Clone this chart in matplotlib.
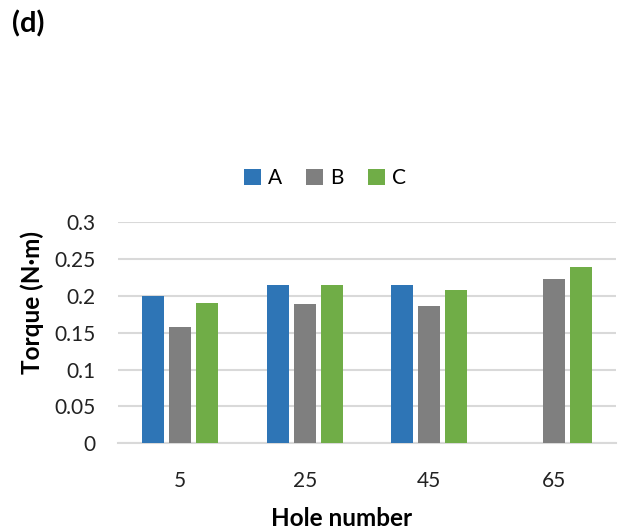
import matplotlib.pyplot as plt
import numpy as np

plt.rcParams["font.family"] = ["Lato", "DejaVu Sans"]

holes = ["5", "25", "45", "65"]
torque_a = [0.200, 0.215, 0.215, np.nan]
torque_b = [0.158, 0.189, 0.186, 0.223]
torque_c = [0.190, 0.215, 0.208, 0.239]

series = [("A", torque_a, "#2E75B6"), ("B", torque_b, "#7F7F7F"), ("C", torque_c, "#70AD47")]

fig = plt.figure(figsize=(6.19, 5.32), dpi=100)
ax = fig.add_axes([0.1906, 0.1667, 0.8044, 0.4160])

x = np.arange(len(holes))
width = 0.177
step = 0.218
for i, (name, vals, color) in enumerate(series):
    ax.bar(x + (i - 1) * step, vals, width, color=color, label=name, zorder=3)

ax.set_xlim(-0.5, len(holes) - 0.5)
ax.set_ylim(0, 0.3)
ax.set_yticks([0, 0.05, 0.1, 0.15, 0.2, 0.25, 0.3])
ax.set_yticklabels(["0", "0.05", "0.1", "0.15", "0.2", "0.25", "0.3"])
ax.set_xticks(x)
ax.set_xticklabels(holes)
ax.tick_params(axis="both", length=0, labelsize=15, colors="#222222")
ax.tick_params(axis="y", pad=16)
ax.tick_params(axis="x", pad=20)
ax.grid(axis="y", color="#d9d9d9", linewidth=1.5, zorder=0)
for s in ["top", "right", "left"]:
    ax.spines[s].set_visible(False)
ax.spines["bottom"].set_color("#d9d9d9")
ax.spines["bottom"].set_linewidth(1.5)

fig.text(342 / 619, 1 - 518 / 532, "Hole number", ha="center", va="center",
         fontsize=17.5, fontweight="bold")
fig.text(32 / 619, 1 - 302 / 532, "Torque (N·m)", ha="center", va="center",
         rotation=90, fontsize=17.5, fontweight="bold")
fig.text(12 / 619, 1 - 24 / 532, "(d)", ha="left", va="center",
         fontsize=21, fontweight="bold")

fig.legend(loc="center", bbox_to_anchor=(325 / 619, 1 - 178 / 532), ncol=3,
           frameon=False, fontsize=15, handlelength=0.82, handleheight=0.82,
           handletextpad=0.34, columnspacing=1.15)

fig.savefig("out.png", dpi=100)
